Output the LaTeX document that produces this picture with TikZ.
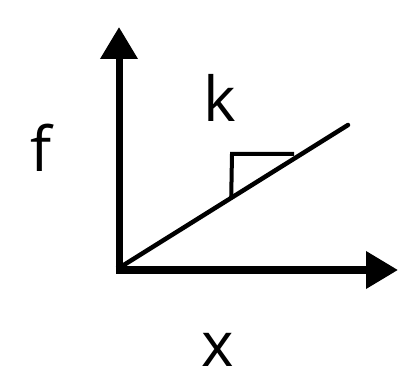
\documentclass[tikz,border=0pt]{standalone}
\usepackage{fontspec}
\setmainfont{Open Sans}
\usetikzlibrary{arrows.meta,calc}
\begin{document}
\begin{tikzpicture}[x=1pt,y=-1pt,
  axis/.style={line width=7pt,-{Triangle[length=32pt,width=36pt]}},
  lbl/.style={font=\fontsize{62}{70}\selectfont,inner sep=0pt,anchor=base},
  slopeline/.style={line width=4.5pt},
  tri/.style={line width=4pt}]
\useasboundingbox (0,0) rectangle (399,374);
\coordinate (O) at (119,268);
\coordinate (ytip) at (119,27);
\coordinate (xtip) at (398,270);
\coordinate (lend) at (348,125);
\draw[axis] (O) -- (ytip);
\draw[axis] ([xshift=-3.5pt]O |- xtip) -- (xtip);
\draw[slopeline,line cap=round] (O) -- (lend);
\coordinate (tb) at ($(O)!0.49!(lend)$);
\coordinate (tt) at (232,154);
\coordinate (tr) at (294,154);
\draw[tri] (tb) -- (tt) -- (tr);
\node[lbl] (f) at (41,172) {f};
\node[lbl] (k) at (220,122) {k};
\node[lbl] (x) at (218,366) {x};
\end{tikzpicture}
\end{document}
